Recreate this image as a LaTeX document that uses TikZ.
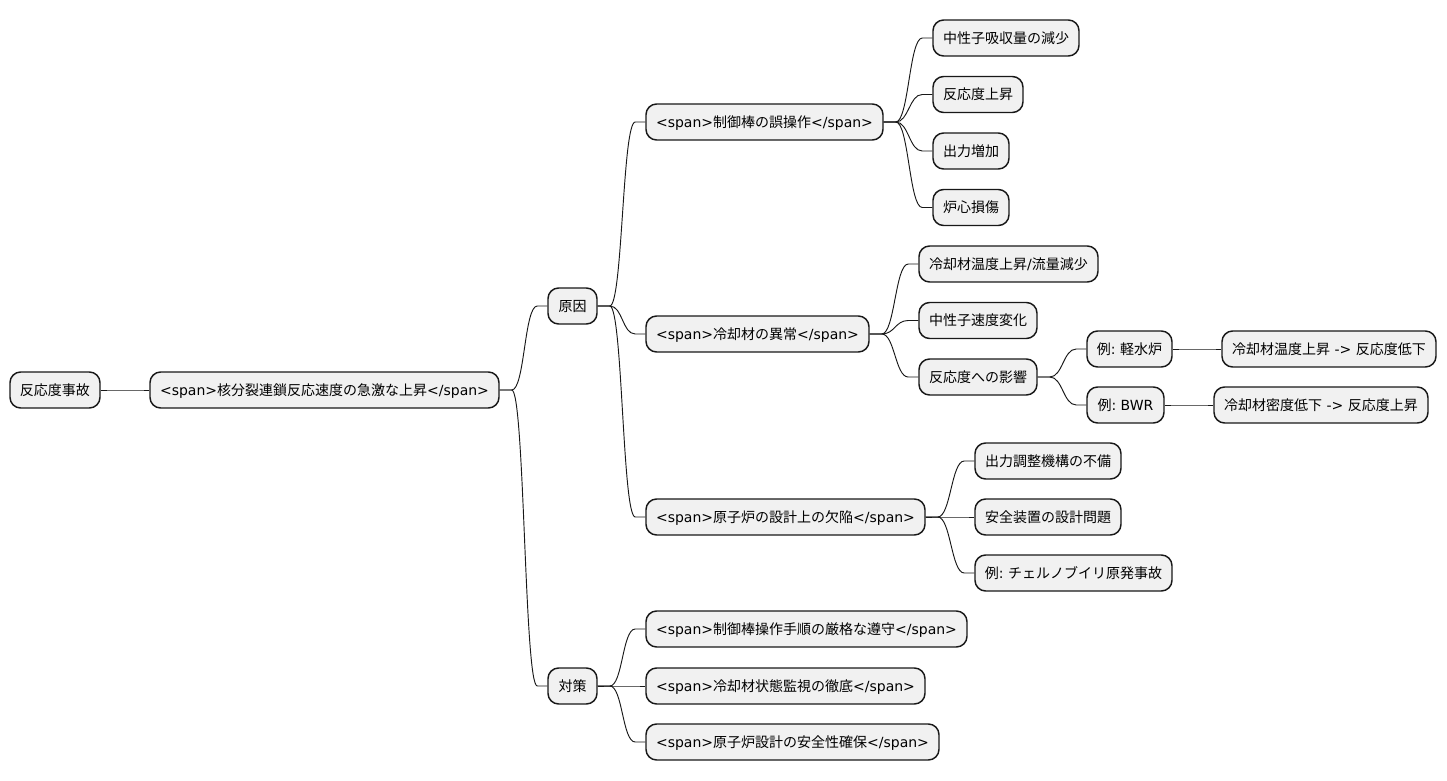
\documentclass[tikz,border=0pt]{standalone}
\usepackage{fontspec}
\setmainfont{DejaVu Sans}
\newfontfamily\cjk{Noto Sans CJK JP}
\usetikzlibrary{calc}
\definecolor{boxfill}{HTML}{F1F1F1}
\definecolor{boxline}{HTML}{181818}
\tikzset{
  mmbox/.style={draw=boxline, fill=boxfill, line width=1.1pt, rounded corners=8pt,
    minimum height=27pt, inner sep=0pt, font=\fontsize{10.5pt}{12pt}\selectfont\frenchspacing,
    text height=10pt, text depth=2pt, align=center},
  mmline/.style={draw=boxline, line width=0.7pt}
}
\newcommand\mmnode[5]{\node[mmbox, minimum width={(#3-#2)*0.75pt}] (#1) at ({(#2+#3)/2},#4) {#5};}
\newcommand\mmconn[2]{\draw[mmline] (#1.east) -- ++(12,0) .. controls +(13,0) and +(-13,0) .. ($(#2.west)+(-10,0)$) -- (#2.west);}
\begin{document}
\begin{tikzpicture}[x=0.75pt,y=-0.75pt]
\useasboundingbox (0,0) rectangle (1447,781);
% level 0-2
\mmnode{r}{10}{100}{390}{\cjk 反応度事故}
\mmnode{a}{150}{499}{390}{<span>{\cjk 核分裂連鎖反応速度の急激な上昇}</span>}
\mmnode{c}{548}{597}{306}{\cjk 原因}
\mmnode{t}{548}{597}{686}{\cjk 対策}
% causes
\mmnode{c1}{646}{883}{122}{<span>{\cjk 制御棒の誤操作}</span>}
\mmnode{c2}{646}{869}{334}{<span>{\cjk 冷却材の異常}</span>}
\mmnode{c3}{646}{925}{517}{<span>{\cjk 原子炉の設計上の欠陥}</span>}
% countermeasures
\mmnode{t1}{646}{967}{629}{<span>{\cjk 制御棒操作手順の厳格な遵守}</span>}
\mmnode{t2}{646}{925}{686}{<span>{\cjk 冷却材状態監視の徹底}</span>}
\mmnode{t3}{646}{939}{742}{<span>{\cjk 原子炉設計の安全性確保}</span>}
% under c1
\mmnode{c11}{933}{1079}{38}{\cjk 中性子吸収量の減少}
\mmnode{c12}{933}{1023}{94.5}{\cjk 反応度上昇}
\mmnode{c13}{933}{1009}{151}{\cjk 出力増加}
\mmnode{c14}{933}{1009}{207.5}{\cjk 炉心損傷}
% under c2
\mmnode{c21}{919}{1098}{264}{{\cjk 冷却材温度上昇}/{\cjk 流量減少}}
\mmnode{c22}{919}{1037}{320.5}{\cjk 中性子速度変化}
\mmnode{c23}{919}{1037}{377}{\cjk 反応度への影響}
\mmnode{e1}{1087}{1172}{349}{{\cjk 例}: {\cjk 軽水炉}}
\mmnode{e2}{1087}{1164}{405}{{\cjk 例}: BWR}
\mmnode{e11}{1222}{1436}{349}{{\cjk 冷却材温度上昇} -> {\cjk 反応度低下}}
\mmnode{e21}{1214}{1428}{405}{{\cjk 冷却材密度低下} -> {\cjk 反応度上昇}}
% under c3
\mmnode{c31}{975}{1121}{461}{\cjk 出力調整機構の不備}
\mmnode{c32}{975}{1121}{517}{\cjk 安全装置の設計問題}
\mmnode{c33}{975}{1172}{573}{{\cjk 例}: {\cjk チェルノブイリ原発事故}}
% connectors
\mmconn{r}{a}
\mmconn{a}{c}
\mmconn{a}{t}
\mmconn{c}{c1}
\mmconn{c}{c2}
\mmconn{c}{c3}
\mmconn{t}{t1}
\mmconn{t}{t2}
\mmconn{t}{t3}
\mmconn{c1}{c11}
\mmconn{c1}{c12}
\mmconn{c1}{c13}
\mmconn{c1}{c14}
\mmconn{c2}{c21}
\mmconn{c2}{c22}
\mmconn{c2}{c23}
\mmconn{c23}{e1}
\mmconn{c23}{e2}
\mmconn{e1}{e11}
\mmconn{e2}{e21}
\mmconn{c3}{c31}
\mmconn{c3}{c32}
\mmconn{c3}{c33}
\end{tikzpicture}
\end{document}
